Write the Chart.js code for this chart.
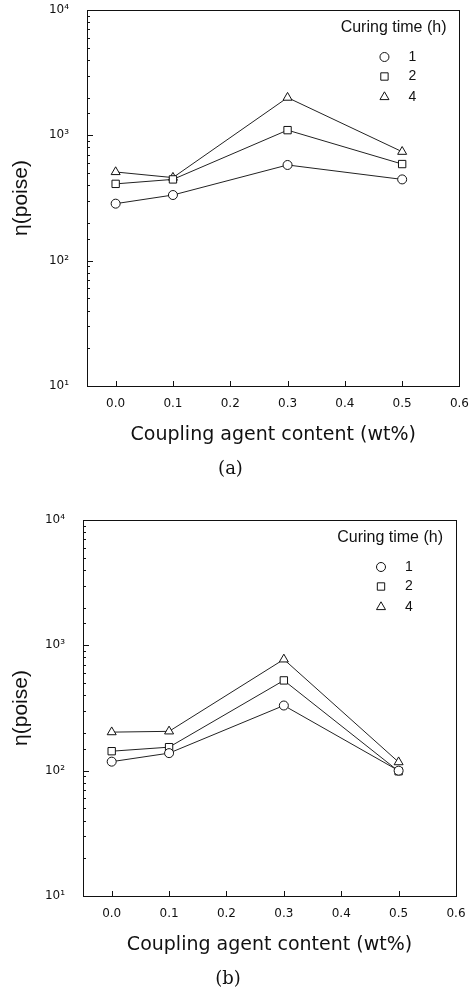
<!DOCTYPE html>
<html><head><meta charset="utf-8">
<script src="https://cdn.jsdelivr.net/npm/chart.js@4"></script>
<style>
html,body{margin:0;padding:0;background:#fff;}
body{width:472px;height:991px;position:relative;overflow:hidden;}
.box{position:absolute;left:0;width:472px;}
#boxA{top:0;height:490px;}
#boxB{top:490px;height:501px;}
</style></head><body>
<div class="box" id="boxA"><canvas id="chartA"></canvas></div>
<div class="box" id="boxB"><canvas id="chartB"></canvas></div>
<script>
// ---- data ----
const contentX = [0.0, 0.1, 0.3, 0.5];
const curingTimes = ['1', '2', '4'];
const panelA_1h = [285, 334, 580, 445];
const panelA_2h = [410, 445, 1100, 590];
const panelA_4h = [510, 460, 2000, 740];
const panelB_1h = [118, 138, 331, 100];
const panelB_2h = [143, 154, 525, 99];
const panelB_4h = [203, 206, 773, 117];
const xTickValues = [0.0, 0.1, 0.2, 0.3, 0.4, 0.5, 0.6];
const yTickLabels = ['10\u00B9', '10\u00B2', '10\u00B3', '10\u2074'];
const panelCaptions = ['(a)', '(b)'];
const legendTitle = 'Curing time (h)';
const xTitle = 'Coupling agent content (wt%)';
const yTitle = '\u03B7(poise)';

const markerStyles = ['circle', 'rect', 'triangle'];
const markerRadius = [4.5, 5.2, 5.2];
const INK = '#111';

const framePlugin = {
  id: 'frame',
  afterDatasetsDraw(chart) {
    const {ctx, chartArea: ca, scales} = chart;
    ctx.save();
    ctx.strokeStyle = INK;
    ctx.lineWidth = 1;
    ctx.strokeRect(Math.round(ca.left) + 0.5, Math.round(ca.top) + 0.5,
      Math.round(ca.right - ca.left), Math.round(ca.bottom - ca.top));
    const ys = scales.y;
    ys.ticks.forEach(t => {
      const l = Math.log10(t.value);
      const major = Math.abs(l - Math.round(l)) < 1e-9;
      const py = Math.round(ys.getPixelForValue(t.value)) + 0.5;
      ctx.beginPath();
      ctx.moveTo(ca.left, py);
      ctx.lineTo(ca.left + (major ? 6 : 3), py);
      ctx.stroke();
    });
    const xs = scales.x;
    xs.ticks.forEach(t => {
      const px = Math.round(xs.getPixelForValue(t.value)) + 0.5;
      ctx.beginPath();
      ctx.moveTo(px, ca.bottom);
      ctx.lineTo(px, ca.bottom - 5);
      ctx.stroke();
    });
    ctx.restore();
  }
};

const legendPlugin = {
  id: 'insideLegend',
  afterDraw(chart) {
    const {ctx, chartArea: ca} = chart;
    ctx.save();
    ctx.fillStyle = INK;
    ctx.font = '16px "Liberation Sans", Arial, sans-serif';
    ctx.textAlign = 'right';
    ctx.textBaseline = 'middle';
    ctx.fillText(legendTitle, ca.right - 13, ca.top + 18);
    const rows = [47, 66.5, 87];
    chart.data.datasets.forEach((ds, i) => {
      const y = ca.top + rows[i];
      ctx.strokeStyle = INK;
      ctx.fillStyle = '#fff';
      ctx.lineWidth = 1;
      Chart.helpers.drawPoint(ctx, {pointStyle: ds.pointStyle, radius: ds.pointRadius, rotation: 0, borderWidth: 1}, ca.right - 75, y);
      ctx.fillStyle = INK;
      ctx.textAlign = 'center';
      ctx.font = '14px "Liberation Sans", Arial, sans-serif';
      ctx.fillText(ds.label, ca.right - 47, y);
    });
    ctx.restore();
  }
};

function makeChart(id, seriesList, caption, geom) {
  const datasets = seriesList.map((vals, i) => ({
    label: curingTimes[i],
    data: contentX.map((x, k) => ({x: x, y: vals[k]})),
    borderColor: '#222',
    borderWidth: 1,
    pointStyle: markerStyles[i],
    pointRadius: markerRadius[i],
    pointBorderColor: INK,
    pointBackgroundColor: '#fff',
    pointBorderWidth: 1,
    tension: 0,
    fill: false
  }));
  return new Chart(document.getElementById(id), {
    type: 'line',
    data: {datasets},
    plugins: [framePlugin, legendPlugin],
    options: {
      responsive: true,
      maintainAspectRatio: false,
      animation: false,
      layout: {padding: geom.padding},
      plugins: {
        legend: {display: false},
        tooltip: {enabled: false},
        title: {
          display: true, position: 'bottom', text: caption, color: INK,
          font: {family: '"DejaVu Serif", serif', size: 18, weight: 'normal'},
          padding: {top: 13, bottom: 0}
        }
      },
      scales: {
        x: {
          type: 'linear', min: -0.05, max: 0.6,
          afterBuildTicks: s => { s.ticks = xTickValues.map(v => ({value: v})); },
          afterFit: s => { s.height = 60; },
          grid: {display: false}, border: {display: false},
          ticks: {
            callback: v => Number(v).toFixed(1), autoSkip: false, maxRotation: 0,
            color: INK, padding: 3, font: {family: '"DejaVu Sans", sans-serif', size: 12}
          },
          title: {
            display: true, text: xTitle, color: INK,
            font: {family: '"DejaVu Sans", sans-serif', size: 19},
            padding: {top: 0, bottom: 0}
          }
        },
        y: {
          type: 'logarithmic', min: 10, max: 10000,
          afterFit: s => { s.width = geom.yWidth; s.paddingTop = 0; s.paddingBottom = 0; },
          grid: {display: false}, border: {display: false},
          ticks: {
            autoSkip: false, color: INK, padding: 10,
            font: {family: '"DejaVu Sans", sans-serif', size: 12},
            callback: v => {
              const l = Math.log10(v);
              return Math.abs(l - Math.round(l)) < 1e-9 ? yTickLabels[Math.round(l) - 1] : '';
            }
          },
          title: {
            display: true, text: yTitle, color: INK,
            font: {family: '"Liberation Sans", Arial, sans-serif', size: 21},
            padding: {top: 9, bottom: 0}
          }
        }
      }
    }
  });
}

makeChart('chartA', [panelA_1h, panelA_2h, panelA_4h], panelCaptions[0],
  {yWidth: 87, padding: {top: 10, right: 11, bottom: 9.4, left: 0}});
makeChart('chartB', [panelB_1h, panelB_2h, panelB_4h], panelCaptions[1],
  {yWidth: 83, padding: {top: 30, right: 16, bottom: 0.4, left: 0}});
</script>
</body></html>
